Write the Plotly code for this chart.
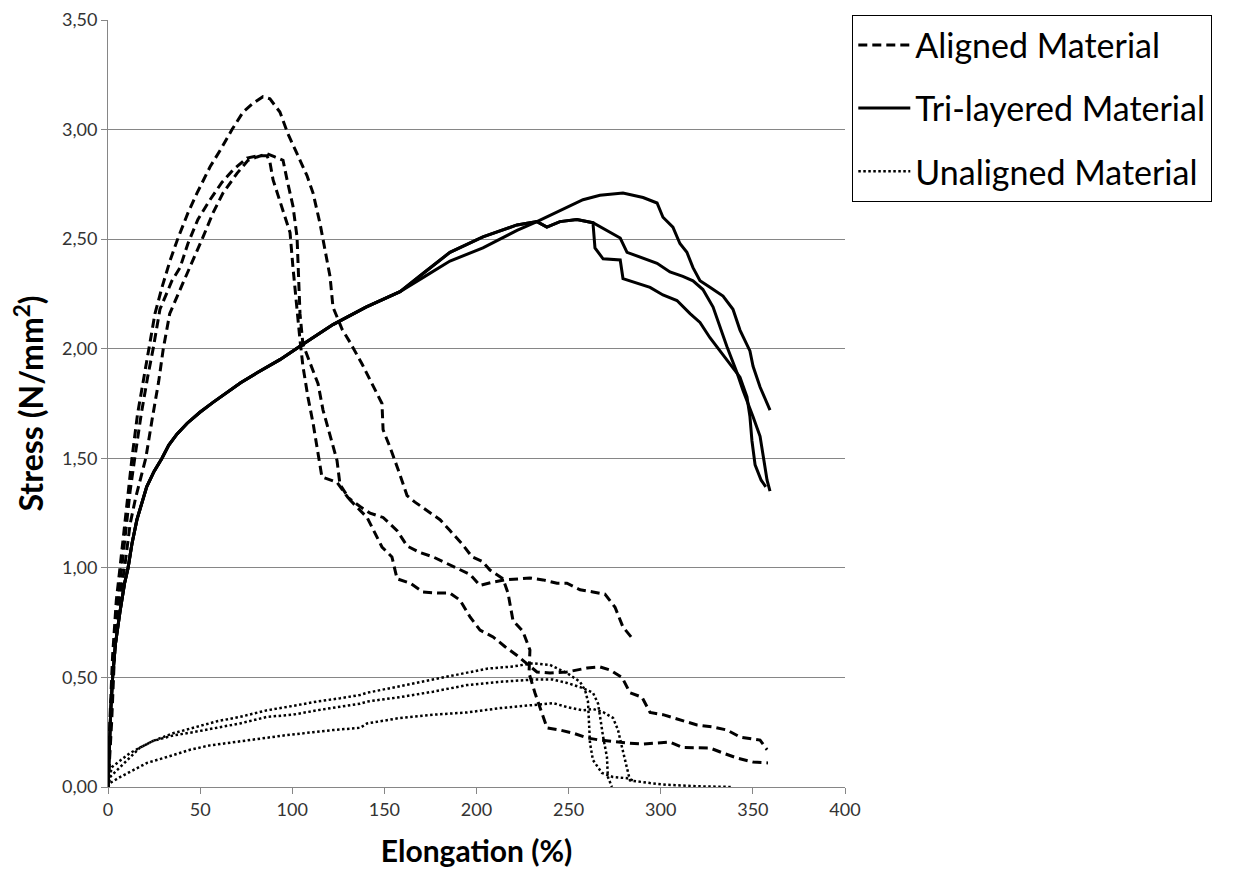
import plotly.graph_objects as go

# ---------------- Aligned material (dashed) ----------------
aligned_1_x = [0, 1, 2.5, 4.5, 6.5, 9, 11, 13, 16, 19.5, 22, 25.5, 29.3, 33.6, 38.0, 43.4, 48.3, 55.4, 61.9, 67.3,
               73.3, 78.7, 84.1, 87.9, 93.3, 97.7, 102.6, 108.0, 111.3, 115.1, 120.5, 122.1, 127.0, 131.3, 137.9,
               143.3, 148.7, 149.3, 153.1, 157.4, 162.3, 166.6, 173.7, 180.2, 185.6, 192.1, 197.6, 203.0, 207.3,
               214.4, 217.1, 219.8, 225.2, 229.0, 228.5, 231.7, 238.3, 245.3, 252.4, 260.0, 267.0, 276.3, 283.3,
               290.4, 298.0, 305.0, 312.1, 319.7, 326.7, 333.8, 341.4, 350.1, 358.2]
aligned_1_y = [0, 0.3, 0.6, 0.85, 1.0, 1.2, 1.35, 1.5, 1.7, 1.87, 2.0, 2.16, 2.28, 2.40, 2.505, 2.62, 2.71, 2.83, 2.92, 3.00,
               3.08, 3.12, 3.15, 3.14, 3.08, 2.98, 2.89, 2.79, 2.71, 2.57, 2.33, 2.19, 2.09, 2.03, 1.93,
               1.84, 1.75, 1.63, 1.55, 1.45, 1.33, 1.30, 1.26, 1.22, 1.17, 1.11, 1.05, 1.03, 0.99,
               0.95, 0.885, 0.76, 0.71, 0.625, 0.52, 0.43, 0.27, 0.26, 0.246, 0.224, 0.214, 0.205, 0.20,
               0.196, 0.20, 0.205, 0.18, 0.178, 0.178, 0.155, 0.132, 0.114, 0.11]

aligned_2_x = [0, 1.5, 3, 5.5, 7.5, 10, 12, 14.5, 18, 21.5, 24.5, 28.2, 34.7, 39.1, 43.4, 48.8, 55.4, 61.9, 67.8, 75.4,
               80.9, 86.3, 87.9, 89.6, 94.4, 98.8, 100.4, 102.6, 104.2, 105.8, 108.5, 111.3, 114.0, 116.1, 124.3,
               130.3, 136.8, 142.2, 149.3, 156.9, 162.3, 169.3, 176.4, 184.0, 189.4, 196.5, 201.9, 209.0, 215.5,
               222.0, 229.0, 236.1, 243.7, 249.1, 256.2, 263.2, 269.7, 275.2, 279.5, 284.4]
aligned_2_y = [0, 0.3, 0.6, 0.85, 1.0, 1.2, 1.35, 1.5, 1.7, 1.87, 2.0, 2.18, 2.31, 2.37, 2.48, 2.59, 2.68, 2.76, 2.815, 2.87,
               2.88, 2.88, 2.85, 2.77, 2.65, 2.53, 2.37, 2.16, 2.04, 1.92, 1.78, 1.66, 1.52, 1.415, 1.39,
               1.32, 1.28, 1.25, 1.23, 1.17, 1.10, 1.07, 1.05, 1.02, 1.00, 0.97, 0.92, 0.935, 0.945,
               0.95, 0.954, 0.945, 0.93, 0.93, 0.90, 0.89, 0.88, 0.82, 0.73, 0.68]

aligned_3_x = [0, 2, 3.5, 6, 9, 12, 15, 20.5, 24, 27.5, 30, 33.5, 40.7, 46.1, 51.6, 57.0, 62.4, 70.0, 76.0, 80.9,
               86.3, 90.6, 95.0, 97.2, 100.4, 102.6, 103.1, 104.2, 105.8, 109.6, 114.0, 116.7, 120.5, 124.3,
               125.9, 131.3, 140.6, 144.9, 148.7, 154.1, 156.9, 164.0, 171.0, 178.6, 185.6, 191.0, 196.5, 201.9,
               209.0, 215.5, 222.0, 232.8, 239.9, 249.1, 260.0, 267.0, 272.5, 279.0, 283.3, 289.8, 294.2, 301.2,
               310.4, 319.7, 328.4, 335.9, 343.0, 353.9, 357.7]
aligned_3_y = [0, 0.3, 0.6, 0.85, 1.0, 1.2, 1.32, 1.5, 1.68, 1.85, 2.0, 2.16, 2.30, 2.40, 2.51, 2.62, 2.71, 2.80, 2.86, 2.875,
               2.89, 2.875, 2.86, 2.77, 2.65, 2.51, 2.37, 2.16, 2.02, 1.94, 1.84, 1.72, 1.60, 1.49,
               1.38, 1.31, 1.23, 1.16, 1.095, 1.05, 0.95, 0.93, 0.89, 0.885, 0.885, 0.853, 0.776, 0.716,
               0.685, 0.64, 0.60, 0.525, 0.52, 0.525, 0.543, 0.548, 0.534, 0.50, 0.43, 0.41, 0.34, 0.33,
               0.306, 0.283, 0.274, 0.26, 0.228, 0.214, 0.17]

# ---------------- Tri-layered material (solid) ----------------
tri_base_x = [0, 0.5, 1.5, 2.5, 4, 6.5, 9, 10.9, 13, 15.7, 18.5, 21.0, 25, 29.3, 33, 37.4, 43, 49.9, 57, 64.6, 72,
              80.9, 93.3, 105.8, 122.1, 140, 158.5]
tri_base_y = [0, 0.15, 0.35, 0.5, 0.65, 0.8, 0.93, 1.0, 1.11, 1.22, 1.30, 1.37, 1.44, 1.50, 1.56, 1.61, 1.66, 1.71, 1.755,
              1.80, 1.845, 1.89, 1.95, 2.02, 2.11, 2.19, 2.26]

tri_1_x = tri_base_x + [172, 185.6, 203.5, 222.0, 232.8, 245.3, 257.8, 267.0, 279.5, 290.4, 298.0, 301.2, 306.6, 310.4,
                        314.2, 317.5, 321.3, 326.7, 333.8, 339.2, 343.0, 348.4, 350.1, 353.9, 356.6, 359.3]
tri_1_y = tri_base_y + [2.33, 2.40, 2.46, 2.54, 2.58, 2.63, 2.68, 2.70, 2.71, 2.69, 2.665, 2.60, 2.555, 2.48,
                        2.44, 2.37, 2.31, 2.28, 2.24, 2.18, 2.085, 1.99, 1.92, 1.825, 1.77, 1.72]

tri_2_x = tri_base_x + [172, 185.6, 203.5, 222.0, 232.8, 238.2, 245.3, 254.5, 263.2, 270.8, 278.0, 281.7, 288.7, 298.0,
                        305.0, 312.0, 317.5, 322.9, 328.4, 332.1, 335.9, 341.4, 344.6, 350.1, 353.9, 356.0, 357.7,
                        359.3]
tri_2_y = tri_base_y + [2.35, 2.44, 2.51, 2.565, 2.58, 2.555, 2.58, 2.59, 2.575, 2.54, 2.505, 2.44, 2.42, 2.39,
                        2.35, 2.33, 2.31, 2.27, 2.19, 2.10, 2.01, 1.89, 1.81, 1.69, 1.60, 1.49, 1.40,
                        1.35]

tri_3_x = tri_base_x + [172, 185.6, 203.5, 222.0, 232.8, 238.2, 245.3, 254.5, 263.2, 264.3, 268.7, 278.0, 279.5, 287.1,
                        294.2, 301.2, 308.8, 315.9, 321.3, 326.7, 332.1, 337.6, 343.0, 346.8, 348.4, 349.5, 351.2,
                        354.5, 357.0]
tri_3_y = tri_base_y + [2.35, 2.44, 2.51, 2.565, 2.58, 2.555, 2.58, 2.59, 2.575, 2.46, 2.41, 2.405, 2.32, 2.30,
                        2.28, 2.245, 2.22, 2.16, 2.12, 2.05, 1.99, 1.93, 1.87, 1.78, 1.69, 1.58, 1.47,
                        1.40, 1.37]

# ---------------- Unaligned material (dotted) ----------------
unaligned_1_x = [0, 2, 6.5, 12, 17.4, 24.4, 35.3, 46.1, 59.2, 71.6, 86.3, 100.4, 113.4, 126.0, 136.8, 140.6, 158.5,
                 176.4, 194.8, 205.7, 219.8, 230.7, 239.9, 249.1, 256.2, 259.0, 260.5, 260.8, 261.6, 263.2, 268.1,
                 274.0, 281.7, 285.0]
unaligned_1_y = [0, 0.09, 0.12, 0.155, 0.18, 0.21, 0.245, 0.27, 0.30, 0.32, 0.35, 0.37, 0.39, 0.405, 0.42, 0.43, 0.46,
                 0.49, 0.52, 0.54, 0.55, 0.565, 0.557, 0.52, 0.48, 0.44, 0.39, 0.32, 0.20, 0.123, 0.064,
                 0.046, 0.04, 0.03]

unaligned_2_x = [0, 1.1, 6.5, 12, 17.4, 24.4, 35.3, 46.1, 59.2, 71.6, 86.3, 100.4, 113.4, 126.0, 136.8, 140.6, 158.5,
                 176.4, 194.8, 212.8, 230.7, 241.5, 249.1, 256.2, 263.2, 266.0, 267.0, 268.7, 270.8, 271.3, 273.5]
unaligned_2_y = [0, 0.045, 0.09, 0.137, 0.18, 0.21, 0.235, 0.25, 0.27, 0.29, 0.32, 0.33, 0.35, 0.365, 0.38, 0.39, 0.41,
                 0.435, 0.465, 0.48, 0.49, 0.49, 0.475, 0.456, 0.43, 0.38, 0.32, 0.23, 0.137, 0.046, 0.0]

unaligned_3_x = [0, 1.1, 6.5, 13.6, 21.2, 32.0, 44.5, 55.4, 67.8, 82.5, 97.2, 111.3, 122.1, 136.8, 140.6, 158.5, 176.4,
                 194.8, 212.8, 230.7, 241.5, 249.1, 257.8, 263.2, 268.7, 274.1, 276.8, 279.0, 281.7, 283.3, 294.2,
                 303.4, 321.3, 339.2]
unaligned_3_y = [0, 0.018, 0.045, 0.078, 0.11, 0.137, 0.17, 0.19, 0.205, 0.22, 0.237, 0.25, 0.26, 0.27, 0.29, 0.315, 0.33,
                 0.34, 0.36, 0.374, 0.383, 0.365, 0.35, 0.356, 0.342, 0.315, 0.26, 0.18, 0.09, 0.03, 0.018,
                 0.01, 0.003, 0.0]

x_ticks = [0, 50, 100, 150, 200, 250, 300, 350, 400]
y_ticks = [0, 0.5, 1.0, 1.5, 2.0, 2.5, 3.0, 3.5]
grid_ticks = [0.5, 1.0, 1.5, 2.0, 2.5, 3.0]

series = [
    ("Aligned Material", "aligned", [(aligned_1_x, aligned_1_y), (aligned_2_x, aligned_2_y), (aligned_3_x, aligned_3_y)],
     dict(color="black", width=3, dash="9px,5px")),
    ("Tri-layered Material", "tri", [(tri_1_x, tri_1_y), (tri_2_x, tri_2_y), (tri_3_x, tri_3_y)],
     dict(color="black", width=3, dash="solid")),
    ("Unaligned Material", "unaligned", [(unaligned_1_x, unaligned_1_y), (unaligned_2_x, unaligned_2_y),
                                          (unaligned_3_x, unaligned_3_y)],
     dict(color="black", width=2.5, dash="2.5px,2.5px")),
]

fig = go.Figure()
# invisible trace on the overlay axis that carries the horizontal grid lines
fig.add_trace(go.Scatter(x=[0], y=[0], yaxis="y2", mode="markers", marker=dict(opacity=0),
                         showlegend=False, hoverinfo="skip"))
for name, group, curves, line in series:
    for i, (xs, ys) in enumerate(curves):
        fig.add_trace(go.Scatter(x=xs, y=ys, mode="lines", name=name, legendgroup=group,
                                 showlegend=(i == 0), line=line))

FONT = "Lato, 'Open Sans', sans-serif"
fig.update_layout(
    width=1243, height=873,
    margin=dict(l=108, r=398, t=20, b=86, autoexpand=False),
    paper_bgcolor="white", plot_bgcolor="white",
    separators=", ",
    font=dict(family=FONT, color="#333333"),
    showlegend=True,
    legend=dict(x=1.0095, y=1.0065, xanchor="left", yanchor="top",
                bgcolor="white", bordercolor="black", borderwidth=1.3,
                font=dict(size=34, color="black", family=FONT),
                tracegroupgap=16, itemwidth=52),
    xaxis=dict(range=[0, 400], tickvals=x_ticks, ticks="outside", ticklen=6, tickcolor="#868686",
               showline=True, linecolor="#868686", linewidth=1, showgrid=False, zeroline=False,
               automargin=False,
               tickfont=dict(size=18, color="#333333"),
               title=dict(text="<b>Elongation (%)</b>", font=dict(size=30, color="black"), standoff=22)),
    yaxis=dict(range=[0, 3.5], tickvals=y_ticks, tickformat=".2f", ticks="outside", ticklen=6, tickcolor="#868686",
               showline=True, linecolor="#868686", linewidth=1, showgrid=False, zeroline=False,
               automargin=False,
               tickfont=dict(size=18, color="#333333"),
               title=dict(text="<b>Stress (N/mm<sup>2</sup>)</b>", font=dict(size=32, color="black"), standoff=8)),
    yaxis2=dict(range=[0, 3.5], overlaying="y", side="left", tickvals=grid_ticks, showticklabels=False,
                automargin=False,
                ticks="", showgrid=True, gridcolor="#868686", gridwidth=1, zeroline=False, showline=False),
)

fig.write_html("out.html", config={"displayModeBar": False},
               post_script="document.body.style.margin='0';document.body.style.padding='0';")
